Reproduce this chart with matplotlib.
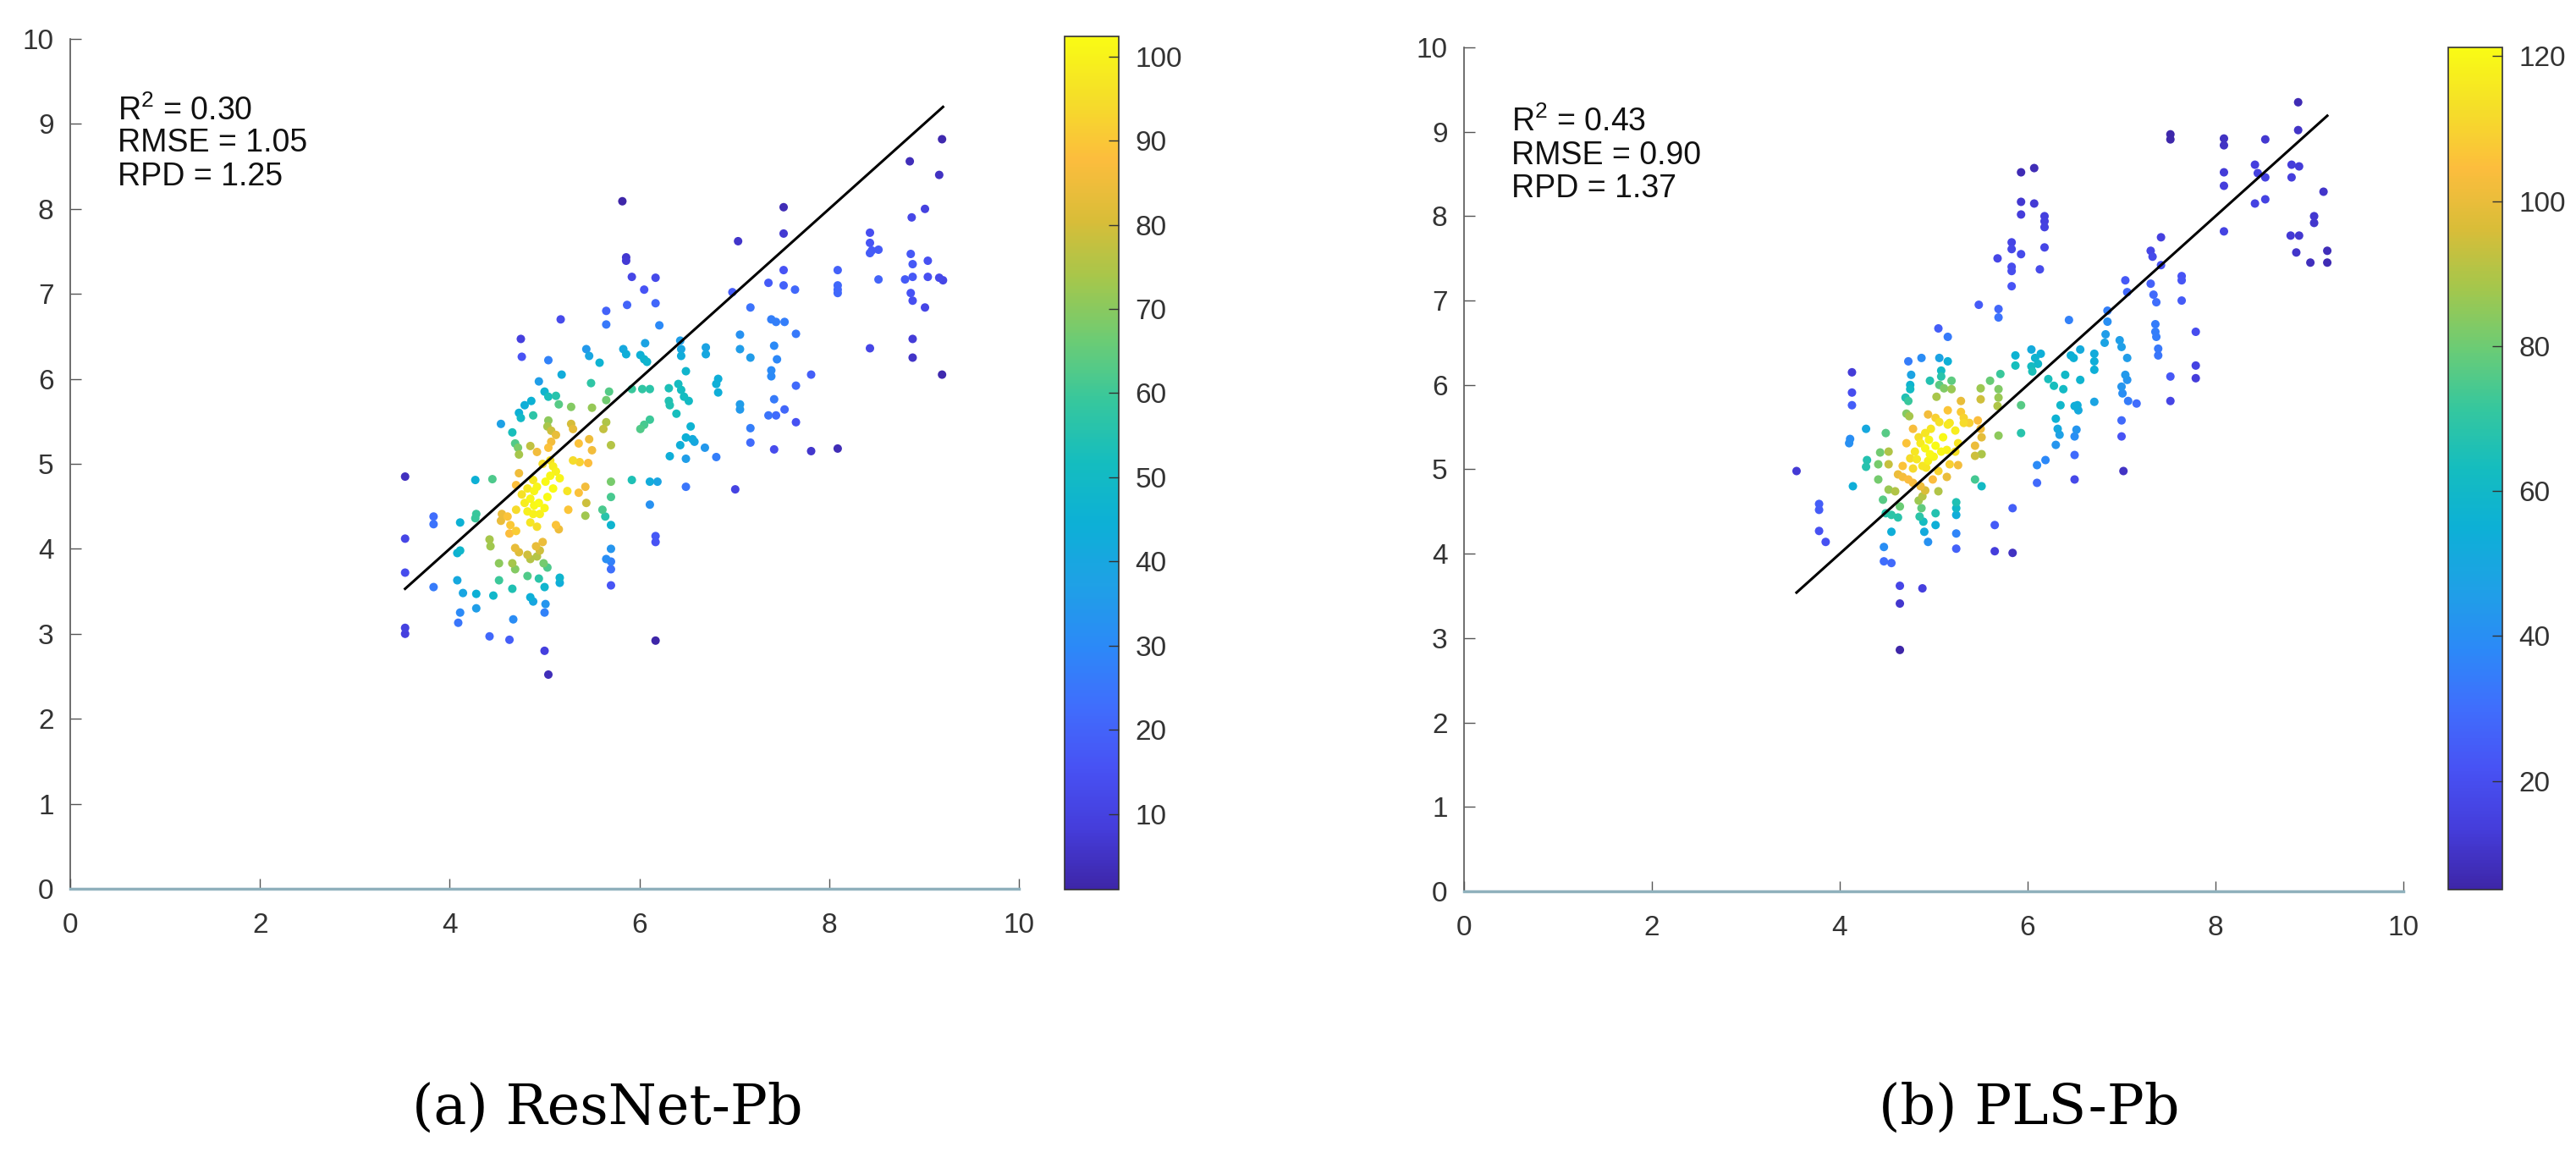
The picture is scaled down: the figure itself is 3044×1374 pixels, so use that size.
import numpy as np
import matplotlib
matplotlib.use("Agg")
import matplotlib.pyplot as plt
from matplotlib.colors import LinearSegmentedColormap

plt.rcParams["font.family"] = ["Liberation Sans", "DejaVu Sans"]
plt.rcParams["mathtext.fontset"] = "custom"
plt.rcParams["mathtext.rm"] = "Liberation Sans"
plt.rcParams["mathtext.it"] = "Liberation Sans:italic"

# ---------------- data: (a) ResNet-Pb ----------------
resnet_points = [
    (3.53, 4.85), (3.53, 4.12), (3.53, 3.72), (3.53, 3.07), (3.53, 3.00), (3.83, 4.38), (3.83, 4.29), (3.83, 3.55),
    (4.11, 4.31), (4.11, 3.98), (4.08, 3.95), (4.08, 3.63), (4.14, 3.48), (4.11, 3.25), (4.09, 3.13),
    (4.75, 6.47), (4.76, 6.26), (5.04, 6.22), (5.44, 6.35), (5.47, 6.27), (5.58, 6.19), (5.83, 6.35), (5.86, 6.29),
    (5.18, 6.05), (5.49, 5.95), (5.68, 5.85), (5.65, 5.75), (4.94, 5.97), (5.00, 5.85), (5.04, 5.79), (5.12, 5.80),
    (4.86, 5.74), (4.79, 5.69), (4.73, 5.60), (4.75, 5.54), (4.88, 5.57), (5.15, 5.70), (5.28, 5.67), (5.50, 5.66),
    (4.54, 5.47), (5.04, 5.51), (5.03, 5.44), (5.07, 5.39), (5.28, 5.47), (5.30, 5.41), (4.66, 5.37), (4.69, 5.24),
    (4.72, 5.19), (5.12, 5.34), (5.62, 5.41), (5.65, 5.49), (5.47, 5.29), (5.70, 5.22), (4.85, 5.21), (4.92, 5.14),
    (5.04, 5.19), (5.07, 5.26), (5.36, 5.24), (5.50, 5.16), (4.73, 5.11), (5.30, 5.04), (5.37, 5.02), (5.46, 5.01),
    (5.09, 4.97), (5.12, 4.91), (5.06, 4.86), (5.01, 4.79), (5.16, 4.83), (4.73, 4.89), (4.27, 4.81), (4.45, 4.82),
    (5.70, 4.79), (5.92, 4.81), (5.24, 4.68), (5.36, 4.66), (5.43, 4.73), (4.89, 4.68), (4.85, 4.59), (4.89, 4.51),
    (4.95, 4.41), (4.79, 4.54), (5.25, 4.46), (5.44, 4.54), (5.43, 4.39), (5.70, 4.61), (5.61, 4.46), (5.64, 4.38),
    (5.70, 4.28), (4.70, 4.46), (4.61, 4.38), (4.55, 4.41), (4.54, 4.33), (4.64, 4.28), (4.70, 4.21), (5.12, 4.28),
    (5.15, 4.23), (4.92, 4.26), (4.85, 4.31), (4.28, 4.41), (4.27, 4.36), (4.42, 4.11), (4.43, 4.03), (4.63, 4.18),
    (4.69, 4.01), (4.73, 3.96), (4.82, 3.93), (4.91, 4.03), (4.98, 4.08), (4.95, 3.98), (4.85, 3.88), (4.92, 3.91),
    (4.52, 3.83), (4.66, 3.83), (4.69, 3.76), (4.99, 3.83), (5.03, 3.78), (4.52, 3.63), (4.82, 3.68), (4.94, 3.65),
    (5.16, 3.66), (5.16, 3.60), (5.00, 3.55), (4.66, 3.53), (4.46, 3.45), (4.85, 3.43), (4.88, 3.38), (5.01, 3.35),
    (5.00, 3.25), (4.28, 3.47), (4.28, 3.30), (4.67, 3.17), (4.42, 2.97), (4.63, 2.93), (5.00, 2.80), (5.04, 2.52),
    (5.70, 4.00), (5.65, 3.88), (5.70, 3.85), (5.70, 3.76), (5.70, 3.57),
    (4.88, 4.81), (4.92, 4.73), (4.82, 4.71), (5.09, 4.71), (5.03, 4.61), (4.94, 4.54), (4.82, 4.44), (4.88, 4.41),
    (5.00, 4.48), (4.76, 4.64), (4.70, 4.75), (5.06, 5.04), (4.98, 5.00),
    (5.17, 6.70), (5.65, 6.80), (5.65, 6.64),
    (5.82, 8.09), (7.52, 8.02), (7.52, 7.71), (7.04, 7.62), (5.86, 7.43), (5.86, 7.39), (5.92, 7.20), (6.17, 7.19),
    (6.05, 7.05), (5.87, 6.87), (6.17, 6.89), (6.21, 6.63), (6.98, 7.02), (7.52, 7.28), (7.36, 7.13), (7.52, 7.10),
    (7.64, 7.05), (7.17, 6.84), (7.39, 6.70), (7.44, 6.67), (7.53, 6.67), (7.65, 6.53), (7.06, 6.52), (7.06, 6.35),
    (7.17, 6.25), (7.42, 6.39), (7.45, 6.23), (7.39, 6.10), (7.39, 6.03), (7.81, 6.05), (7.65, 5.92), (7.42, 5.76),
    (7.53, 5.64), (7.36, 5.57), (7.44, 5.57), (7.65, 5.49), (7.17, 5.42), (7.17, 5.25), (7.42, 5.17), (7.81, 5.15),
    (7.01, 4.70), (7.06, 5.70), (7.06, 5.64), (6.06, 6.42), (6.01, 6.28), (6.05, 6.23), (6.08, 6.20),
    (6.43, 6.45), (6.44, 6.35), (6.44, 6.27), (6.70, 6.37), (6.70, 6.29), (6.49, 6.09), (5.92, 5.88), (6.03, 5.88),
    (6.11, 5.88), (6.31, 5.89), (6.41, 5.94), (6.44, 5.87), (6.47, 5.79), (6.52, 5.74), (6.31, 5.74), (6.32, 5.69),
    (6.83, 6.00), (6.81, 5.94), (6.83, 5.84), (6.39, 5.59), (6.11, 5.52), (6.05, 5.46), (6.01, 5.41), (6.54, 5.44),
    (6.49, 5.31), (6.56, 5.29), (6.58, 5.26), (6.43, 5.22), (6.69, 5.19), (6.81, 5.08), (6.32, 5.09), (6.49, 5.06),
    (6.11, 4.79), (6.19, 4.79), (6.49, 4.73), (6.11, 4.52), (6.17, 4.15), (6.17, 4.08), (6.17, 2.92),
    (9.16, 8.40), (9.01, 8.00), (8.87, 7.90), (8.43, 7.72), (8.43, 7.60), (8.45, 7.51), (8.52, 7.52), (8.43, 7.48),
    (8.09, 7.28), (8.09, 7.10), (8.09, 7.05), (8.09, 7.01), (8.52, 7.17), (8.86, 7.47), (8.88, 7.35), (9.04, 7.39),
    (8.80, 7.17), (8.88, 7.20), (9.04, 7.20), (9.16, 7.19), (9.20, 7.16), (8.86, 7.01), (8.88, 6.92), (9.01, 6.84),
    (8.88, 6.47), (8.88, 6.25), (8.43, 6.36), (9.19, 6.05), (8.09, 5.18), (9.19, 8.82), (8.85, 8.56),
]

# ---------------- data: (b) PLS-Pb ----------------
pls_points = [
    (3.54, 4.98), (3.78, 4.59), (3.78, 4.52), (3.78, 4.27), (3.85, 4.14),
    (4.13, 6.15), (4.13, 5.91), (4.13, 5.76), (5.05, 6.67), (5.15, 6.57), (5.48, 6.95), (5.69, 6.90), (5.69, 6.80),
    (4.73, 6.28), (4.87, 6.32), (5.06, 6.32), (5.15, 6.28), (5.08, 6.17), (5.08, 6.10), (4.76, 6.12), (4.75, 6.00),
    (4.75, 5.95), (4.96, 6.05), (5.06, 6.00), (5.11, 5.96), (5.19, 6.05), (5.19, 5.95), (4.70, 5.85), (4.73, 5.81),
    (5.03, 5.86), (5.50, 5.96), (5.50, 5.83), (5.60, 6.05), (5.71, 6.13), (5.69, 5.95), (5.69, 5.85), (5.68, 5.75),
    (5.87, 6.35), (5.87, 6.23), (6.04, 6.42), (6.08, 6.32), (6.04, 6.22), (6.11, 6.25), (5.93, 5.76), (5.93, 5.43),
    (5.69, 5.40), (6.10, 5.05), (6.10, 4.84), (5.84, 4.54), (5.65, 4.34), (5.65, 4.03), (5.84, 4.01),
    (5.29, 5.81), (5.29, 5.68), (5.32, 5.61), (5.32, 5.55), (5.15, 5.70), (5.17, 5.55), (4.71, 5.66), (4.74, 5.63),
    (4.94, 5.65), (5.02, 5.61), (5.06, 5.56), (5.38, 5.55), (5.47, 5.58), (4.49, 5.43), (4.28, 5.48), (4.11, 5.36),
    (4.10, 5.31), (4.78, 5.48), (4.84, 5.38), (4.91, 5.43), (4.97, 5.48), (5.15, 5.53), (5.23, 5.46), (5.50, 5.48),
    (5.51, 5.38), (4.71, 5.31), (4.80, 5.21), (4.75, 5.13), (4.86, 5.31), (4.91, 5.25), (4.96, 5.18), (5.02, 5.28),
    (5.08, 5.21), (5.14, 5.23), (5.26, 5.31), (5.23, 5.21), (5.44, 5.28), (5.51, 5.18), (5.44, 5.16), (4.43, 5.20),
    (4.52, 5.21), (4.41, 5.06), (4.52, 5.06), (4.29, 5.11), (4.28, 5.03), (4.67, 5.04), (4.62, 4.94), (4.67, 4.91),
    (4.78, 5.01), (4.88, 5.04), (4.94, 5.10), (5.17, 5.06), (5.26, 5.05), (5.05, 4.98), (5.14, 4.91), (4.99, 4.88),
    (4.41, 4.88), (4.14, 4.80), (4.73, 4.88), (4.78, 4.84), (4.86, 4.80), (4.91, 4.75), (4.88, 4.68), (5.05, 4.74),
    (4.52, 4.76), (4.59, 4.74), (4.46, 4.64), (4.64, 4.56), (4.55, 4.46), (4.49, 4.48), (4.62, 4.43), (4.84, 4.63),
    (4.87, 4.54), (4.85, 4.44), (4.89, 4.38), (5.02, 4.48), (5.02, 4.34), (5.24, 4.61), (5.24, 4.54), (5.24, 4.46),
    (5.44, 4.88), (5.51, 4.80), (5.24, 4.24), (5.24, 4.06), (4.90, 4.26), (4.94, 4.14), (4.55, 4.26), (4.47, 4.08),
    (4.47, 3.91), (4.55, 3.89), (4.64, 3.62), (4.64, 3.41), (4.88, 3.59), (4.64, 2.86),
    (4.95, 5.35), (5.00, 5.15), (4.92, 5.02), (5.10, 5.38), (4.82, 5.12),
    (8.88, 9.35), (8.88, 9.02), (7.52, 8.97), (7.52, 8.91), (8.09, 8.92), (8.09, 8.84), (8.53, 8.91), (5.93, 8.52),
    (6.07, 8.57), (8.09, 8.52), (8.09, 8.36), (8.42, 8.61), (8.45, 8.51), (8.53, 8.46), (8.81, 8.61), (8.89, 8.59),
    (8.81, 8.46), (9.15, 8.29), (8.42, 8.15), (8.53, 8.20), (5.93, 8.17), (6.07, 8.15), (5.93, 8.02), (6.18, 8.00),
    (6.18, 7.94), (6.18, 7.87), (6.18, 7.63), (6.13, 7.37), (5.83, 7.69), (5.83, 7.61), (5.93, 7.55), (5.68, 7.50),
    (5.83, 7.40), (5.83, 7.35), (5.83, 7.17),
    (8.09, 7.82), (9.05, 8.00), (9.05, 7.92), (8.80, 7.77), (8.89, 7.77), (8.86, 7.57), (9.19, 7.59), (9.19, 7.45),
    (9.01, 7.45), (7.42, 7.75), (7.31, 7.59), (7.33, 7.52), (7.42, 7.42), (7.04, 7.24), (7.06, 7.10), (7.31, 7.20),
    (7.34, 7.07), (7.37, 6.98), (7.64, 7.29), (7.64, 7.24), (7.64, 7.00), (6.85, 6.88), (6.85, 6.75), (6.44, 6.77),
    (7.36, 6.72), (7.36, 6.63), (7.37, 6.57), (7.79, 6.63), (6.83, 6.60), (6.82, 6.50), (6.98, 6.53), (7.00, 6.45),
    (7.39, 6.43), (7.39, 6.35), (7.79, 6.23), (7.79, 6.08), (7.52, 6.10), (7.52, 5.81), (6.56, 6.42), (6.71, 6.37),
    (6.71, 6.28), (6.71, 6.18), (6.46, 6.35), (6.49, 6.32), (7.06, 6.32), (7.04, 6.12), (7.06, 6.06), (7.00, 5.98),
    (7.01, 5.90), (7.07, 5.81), (7.16, 5.78), (6.22, 6.07), (6.40, 6.12), (6.38, 5.95), (6.56, 6.06), (6.71, 5.80),
    (6.53, 5.76), (6.35, 5.76), (6.14, 6.37), (6.05, 6.16),
    (6.30, 5.60), (6.32, 5.48), (6.34, 5.41), (6.50, 5.75), (6.54, 5.70), (6.50, 5.39), (6.50, 5.17), (6.50, 4.88),
    (6.19, 5.11), (7.00, 5.58), (7.00, 5.39), (7.02, 4.98), (6.52, 5.47), (6.30, 5.29), (6.28, 5.99),
]

panel_titles = ["(a) ResNet-Pb", "(b) PLS-Pb"]
panel_stats = [["0.30", "1.05", "1.25"], ["0.43", "0.90", "1.37"]]
color_limits = [(1.0, 102.4), (5.0, 121.2)]
colorbar_ticks = [[10, 20, 30, 40, 50, 60, 70, 80, 90, 100], [20, 40, 60, 80, 100, 120]]
axis_ticks_x = [0, 2, 4, 6, 8, 10]
axis_ticks_y = [0, 1, 2, 3, 4, 5, 6, 7, 8, 9, 10]

# parula-like colormap
parula_anchors = [
    (0.2422, 0.1504, 0.6603), (0.2691, 0.2400, 0.8600), (0.2810, 0.3228, 0.9579),
    (0.2500, 0.4300, 0.9900), (0.1700, 0.5400, 0.9700), (0.1200, 0.6300, 0.9000),
    (0.0500, 0.6900, 0.8400), (0.0800, 0.7400, 0.7500), (0.2100, 0.7800, 0.6200),
    (0.4200, 0.8000, 0.4600), (0.6400, 0.7800, 0.3000), (0.8500, 0.7400, 0.2200),
    (0.9900, 0.7400, 0.2400), (0.9600, 0.8700, 0.1600), (0.9769, 0.9839, 0.0805),
]
parula = LinearSegmentedColormap.from_list("parula_like", parula_anchors)


def point_density(x, y, h_along=0.72, h_across=0.45):
    # kernel density, elongated along the 1:1 direction
    u = (x + y) / np.sqrt(2)
    v = (y - x) / np.sqrt(2)
    du = u[:, None] - u[None, :]
    dv = v[:, None] - v[None, :]
    return np.exp(-0.5 * ((du / h_along) ** 2 + (dv / h_across) ** 2)).sum(axis=1)


W, H = 3044, 1374
fig = plt.figure(figsize=(W / 100, H / 100), dpi=100)


def frac(x0, y0, x1, y1):
    return [x0 / W, 1 - y1 / H, (x1 - x0) / W, (y1 - y0) / H]


axes_px = [(83, 46, 1204, 1050), (1730, 56, 2840, 1053)]
cbar_px = [(1258, 43, 1322, 1051), (2893, 56, 2957, 1051)]
caption_px = [(718, 1310), (2398, 1310)]
text_y = [[9.15, 8.77, 8.38], [9.12, 8.72, 8.32]]

for i, pts in enumerate([resnet_points, pls_points]):
    arr = np.array(pts)
    x, y = arr[:, 0], arr[:, 1]
    d = point_density(x, y)
    lo, hi = color_limits[i]
    t = (d - d.min()) / (d.max() - d.min())
    c = lo + t ** 1.3 * (hi - lo)
    order = np.argsort(c)

    ax = fig.add_axes(frac(*axes_px[i]))
    sc = ax.scatter(x[order], y[order], c=c[order], cmap=parula, vmin=lo, vmax=hi,
                    s=52, linewidths=0, zorder=3)
    xs = np.array([x.min(), x.max()])
    ax.plot(xs, xs, color="black", lw=2.2, zorder=4)

    ax.set_xlim(0, 10)
    ax.set_ylim(0, 10)
    ax.set_xticks(axis_ticks_x)
    ax.set_yticks(axis_ticks_y)
    ax.spines["top"].set_visible(False)
    ax.spines["right"].set_visible(False)
    ax.spines["left"].set_color("#555555")
    ax.spines["left"].set_linewidth(1.2)
    ax.spines["bottom"].set_color("#8fb0bc")
    ax.spines["bottom"].set_linewidth(2.5)
    ax.tick_params(axis="x", direction="in", length=9, width=1, color="#555555",
                   labelsize=24, labelcolor="#333333", pad=20)
    ax.tick_params(axis="y", direction="in", length=9, width=1, color="#555555",
                   labelsize=24, labelcolor="#333333", pad=14)

    r2, rmse, rpd = panel_stats[i]
    lines = [r"$\mathrm{R}^{2}$ = " + r2, "RMSE = " + rmse, "RPD = " + rpd]
    for ln, ty in zip(lines, text_y[i]):
        ax.text(0.5, ty, ln, fontsize=27, color="#111111", ha="left", va="center")

    cax = fig.add_axes(frac(*cbar_px[i]))
    cb = fig.colorbar(sc, cax=cax)
    cb.set_ticks(colorbar_ticks[i])
    cb.outline.set_linewidth(1.2)
    cb.outline.set_edgecolor("#333333")
    cax.tick_params(direction="in", length=9, width=1, color="#333333",
                    labelsize=24, labelcolor="#333333", pad=14)

    fig.text(caption_px[i][0] / W, 1 - caption_px[i][1] / H, panel_titles[i],
             ha="center", va="center", family="DejaVu Serif", fontsize=47, color="black")

fig.savefig("out.png", dpi=100, facecolor="white")
